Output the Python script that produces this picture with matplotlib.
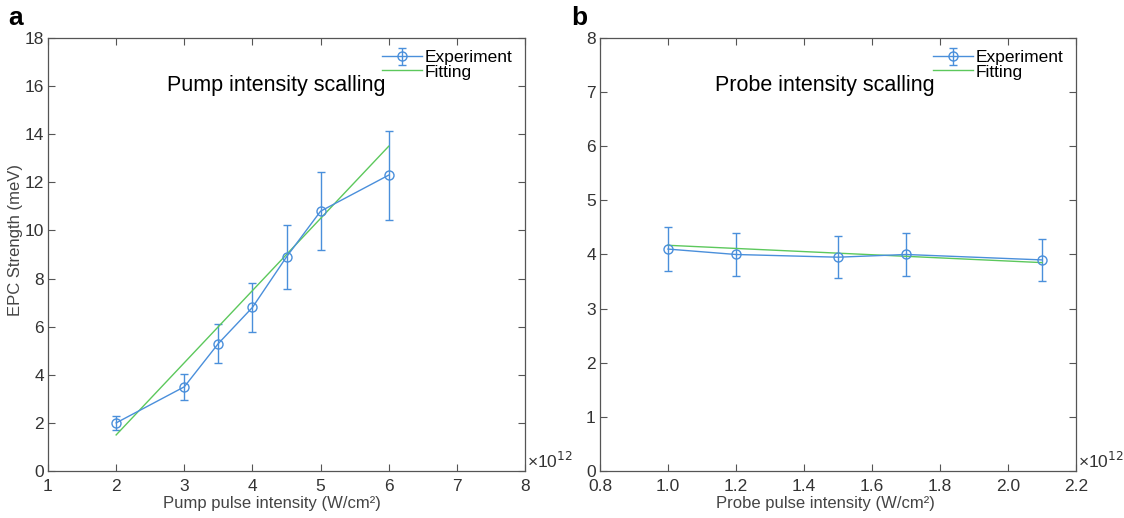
import matplotlib
matplotlib.use('Agg')
import matplotlib.pyplot as plt
from matplotlib.ticker import FuncFormatter

plt.rcParams['font.family'] = ['Liberation Sans', 'DejaVu Sans']

# pump scan (panel a)
pump_x = [2.0e12, 3.0e12, 3.5e12, 4.0e12, 4.5e12, 5.0e12, 6.0e12]
pump_y = [2.0, 3.5, 5.3, 6.8, 8.9, 10.8, 12.3]
pump_err = [0.3, 0.53, 0.8, 1.02, 1.33, 1.62, 1.85]
pump_fit_x = [2.0e12, 6.0e12]
pump_fit_y = [1.5, 13.5]

# probe scan (panel b)
probe_x = [1.0e12, 1.2e12, 1.5e12, 1.7e12, 2.1e12]
probe_y = [4.1, 4.0, 3.95, 4.0, 3.9]
probe_err = [0.41, 0.4, 0.39, 0.4, 0.39]
probe_fit_x = [1.0e12, 2.1e12]
probe_fit_y = [4.17, 3.85]

blue = '#4a8fdb'
green = '#5cc85c'
grey = '#555555'

fig = plt.figure(figsize=(11.24, 5.18), dpi=100)
ax_a = fig.add_axes([0.0427, 0.0907, 0.4244, 0.836])
ax_b = fig.add_axes([0.5338, 0.0907, 0.4235, 0.836])


def style(ax, fmt):
    for s in ax.spines.values():
        s.set_color(grey)
        s.set_linewidth(0.9)
    ax.tick_params(direction='in', top=True, right=True, colors=grey,
                   labelcolor='#333333', labelsize=12.5, length=5, pad=3)
    ax.tick_params(axis='x', pad=5.5)
    ax.xaxis.set_major_formatter(FuncFormatter(fmt))
    ax.text(1.005, 0.0, '×10$^{12}$', transform=ax.transAxes,
            fontsize=12.5, color='#333333', va='bottom', ha='left')


def panel(ax, x, y, err, fx, fy, title, tx):
    eb = ax.errorbar(x, y, yerr=err, color=blue, lw=1.0, marker='o', ms=6.5,
                     mfc='none', mec=blue, capsize=3, elinewidth=1.0)
    fit, = ax.plot(fx, fy, color=green, lw=1.0)
    ax.text(tx, 0.89, title, transform=ax.transAxes, fontsize=15.5,
            ha='center', va='center')
    ax.legend([eb, fit], ['Experiment', 'Fitting'], loc='upper right',
              frameon=False, fontsize=12.5, handlelength=2.3,
              handletextpad=0.2, labelspacing=-0.05, borderaxespad=0.3)


panel(ax_a, pump_x, pump_y, pump_err, pump_fit_x, pump_fit_y,
      'Pump intensity scalling', 0.478)
ax_a.set_xlim(1e12, 8e12)
ax_a.set_ylim(0, 18)
ax_a.set_xticks([i * 1e12 for i in range(1, 9)])
ax_a.set_yticks(range(0, 19, 2))
style(ax_a, lambda v, p: '%d' % round(v / 1e12))
ax_a.set_xlabel('Pump pulse intensity (W/cm²)', fontsize=12,
                color='#444444')
ax_a.xaxis.set_label_coords(0.47, -0.058)
ax_a.set_ylabel('EPC Strength (meV)', fontsize=12, color='#444444')
ax_a.yaxis.set_label_coords(-0.052, 0.533)

panel(ax_b, probe_x, probe_y, probe_err, probe_fit_x, probe_fit_y,
      'Probe intensity scalling', 0.472)
ax_b.set_xlim(0.8e12, 2.2e12)
ax_b.set_ylim(0, 8)
ax_b.set_xticks([v * 1e12 for v in [0.8, 1.0, 1.2, 1.4, 1.6, 1.8, 2.0, 2.2]])
ax_b.set_yticks(range(0, 9))
style(ax_b, lambda v, p: '%.1f' % (v / 1e12))
ax_b.set_xlabel('Probe pulse intensity (W/cm²)', fontsize=12,
                color='#444444')
ax_b.xaxis.set_label_coords(0.473, -0.058)

fig.text(0.007, 0.965, 'a', fontsize=19, fontweight='bold', va='center')
fig.text(0.508, 0.965, 'b', fontsize=19, fontweight='bold', va='center')

fig.savefig('out.png', dpi=100)
